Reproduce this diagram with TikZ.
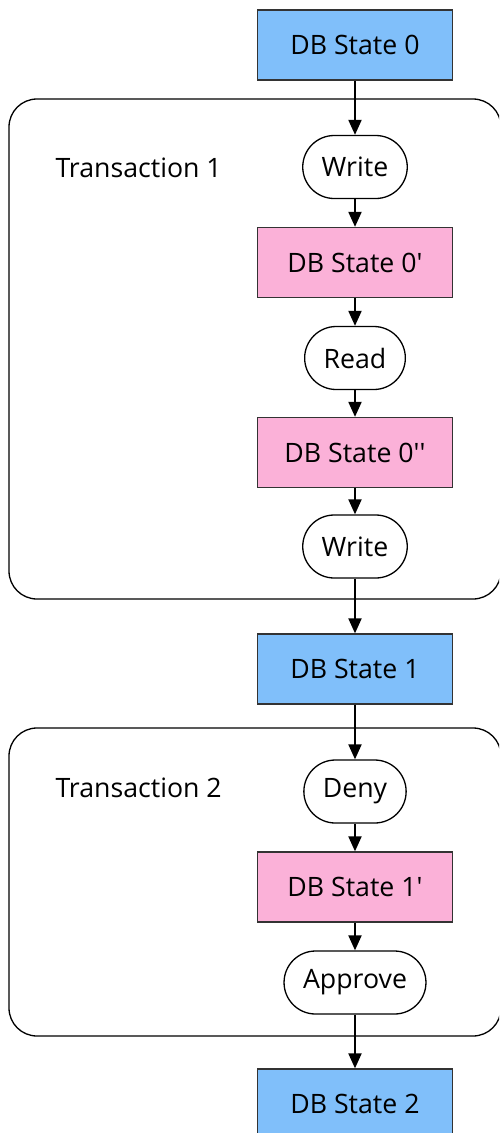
\documentclass[tikz,border=0pt]{standalone}
\usepackage{fontspec}
\setmainfont{Open Sans}
\usetikzlibrary{arrows.meta}
\definecolor{stateblue}{RGB}{128,191,250}
\definecolor{statepink}{RGB}{251,177,216}
\definecolor{edgegray}{RGB}{51,51,51}
\newcommand{\pr}{\textquotesingle}

\begin{document}
\begin{tikzpicture}[x=1pt, y=-1pt,
  font=\fontsize{26.7}{31}\selectfont,
  statebox/.style={draw=edgegray, line width=1.3pt, minimum width=195pt,
    minimum height=70pt, inner sep=0pt},
  committed/.style={statebox, fill=stateblue},
  pending/.style={statebox, fill=statepink},
  op/.style={draw=black, line width=1.3pt, fill=white, rounded corners=31.5pt,
    minimum height=63pt, inner xsep=19pt, inner ysep=0pt},
  txgroup/.style={draw=black, line width=1.3pt, rounded corners=28pt},
  flow/.style={-{Triangle[length=15pt, width=13pt]}, line width=2pt}]

  \useasboundingbox (0,0) rectangle (499,1133);
  \clip (0,0) rectangle (499,1133);

  % transaction groups
  \draw[txgroup] (9,99) rectangle (501,599);
  \draw[txgroup] (9,728) rectangle (501,1036);
  \node[anchor=west] (t1) at (52,168) {Transaction 1};
  \node[anchor=west] (t2) at (52,788) {Transaction 2};

  % states and operations
  \node[committed] (s0)   at (355,45)     {DB State 0};
  \node[op]        (w1)   at (355,167)    {Write};
  \node[pending]   (s0p)  at (355,262.5)  {DB State 0\pr};
  \node[op]        (rd)   at (355,358)    {Read};
  \node[pending]   (s0pp) at (355,452.5)  {DB State 0\pr\pr};
  \node[op]        (w2)   at (355,546.5)  {Write};
  \node[committed] (s1)   at (355,669)    {DB State 1};
  \node[op]        (dn)   at (355,791.5)  {Deny};
  \node[pending]   (s1p)  at (355,887)    {DB State 1\pr};
  \node[op]        (ap)   at (355,982.5)  {Approve};
  \node[committed] (s2)   at (355,1104)   {DB State 2};

  % flow
  \draw[flow] (s0) -- (w1);
  \draw[flow] (w1) -- (s0p);
  \draw[flow] (s0p) -- (rd);
  \draw[flow] (rd) -- (s0pp);
  \draw[flow] (s0pp) -- (w2);
  \draw[flow] (w2) -- (s1);
  \draw[flow] (s1) -- (dn);
  \draw[flow] (dn) -- (s1p);
  \draw[flow] (s1p) -- (ap);
  \draw[flow] (ap) -- (s2);
\end{tikzpicture}
\end{document}
